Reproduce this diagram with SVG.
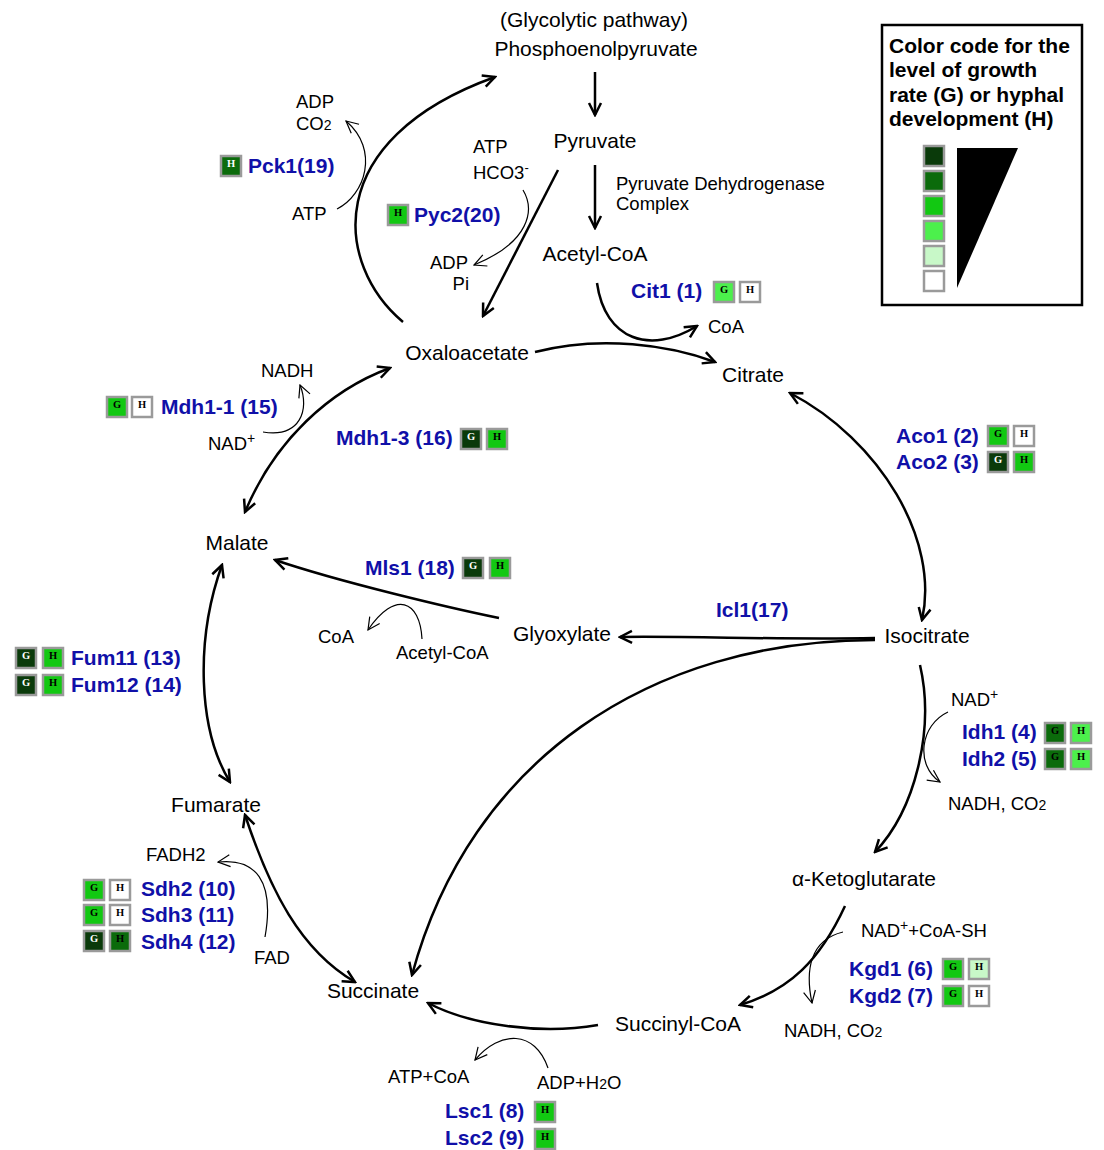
<svg xmlns="http://www.w3.org/2000/svg" width="1104" height="1150" viewBox="0 0 1104 1150">
<defs>
<style>
.m{font-family:"Liberation Sans",Arial,sans-serif;font-size:21px;fill:#000;text-anchor:middle}
.s{font-family:"Liberation Sans",Arial,sans-serif;font-size:18.5px;fill:#000}
.e{font-family:"Liberation Sans",Arial,sans-serif;font-size:21px;font-weight:bold;fill:#1010a8}
.lg{font-family:"Liberation Sans",Arial,sans-serif;font-size:21px;font-weight:bold;fill:#000}
.bx{stroke:#9a9a9a;stroke-width:2.5}
.l1{fill:#0a3a0a}.l2{fill:#0b6b0b}.l3{fill:#12c812}.l4{fill:#4cf04c}.l5{fill:#c8f8c8}.l6{fill:#ffffff}
.bl{font-family:"Liberation Serif","Times New Roman",serif;font-size:10.5px;font-weight:bold;text-anchor:middle;fill:#000}
.bw{fill:#fff}
.k{fill:none;stroke:#000;stroke-width:2.5}
.t{fill:none;stroke:#000;stroke-width:1.2}
</style>
<marker id="ah" viewBox="0 0 16 16" refX="14" refY="8" markerWidth="16" markerHeight="16" orient="auto-start-reverse" markerUnits="userSpaceOnUse"><path d="M2,2 L14,8 L2,14" fill="none" stroke="#000" stroke-width="2.5"/></marker>
<marker id="at" viewBox="0 0 14 14" refX="13" refY="7" markerWidth="14" markerHeight="14" orient="auto-start-reverse" markerUnits="userSpaceOnUse"><path d="M1,1 L13,7 L1,13" fill="none" stroke="#000" stroke-width="1.2"/></marker>
</defs>
<rect width="1104" height="1150" fill="#fff"/>

<g id="connectors">
<path class="k" d="M595,72 L595,115" marker-end="url(#ah)"/>
<path class="k" d="M595,165 L595,228" marker-end="url(#ah)"/>
<path class="k" d="M403,322 C335,265 320,140 495,77" marker-end="url(#ah)"/>
<path class="t" d="M337,209 C365,195 380,150 346,121" marker-end="url(#at)"/>
<path class="k" d="M558,170 L483,316" marker-end="url(#ah)"/>
<path class="t" d="M523,190 C535,210 530,242 474,265" marker-end="url(#at)"/>
<path class="k" d="M535,352 C600,335 670,345 715,362" marker-end="url(#ah)"/>
<path class="k" d="M597,283 C605,340 650,355 697,326" marker-end="url(#ah)"/>
<path class="k" d="M790,393 C880,440 940,540 922,620" marker-start="url(#ah)" marker-end="url(#ah)"/>
<path class="k" d="M920,665 C935,730 915,810 875,852" marker-end="url(#ah)"/>
<path class="t" d="M948,712 C920,725 915,765 940,782" marker-end="url(#at)"/>
<path class="k" d="M845,906 C820,960 790,990 740,1005" marker-end="url(#ah)"/>
<path class="t" d="M843,932 C810,940 805,970 812,1003" marker-end="url(#at)"/>
<path class="k" d="M598,1025 C540,1035 470,1025 428,1003" marker-end="url(#ah)"/>
<path class="t" d="M548,1068 C535,1030 500,1030 475,1060" marker-end="url(#at)"/>
<path class="k" d="M245,815 C270,890 300,950 355,982" marker-start="url(#ah)" marker-end="url(#ah)"/>
<path class="t" d="M265,937 C275,880 255,858 218,862" marker-end="url(#at)"/>
<path class="k" d="M222,565 C195,640 198,730 230,782" marker-start="url(#ah)" marker-end="url(#ah)"/>
<path class="k" d="M245,512 C275,440 330,390 390,368" marker-start="url(#ah)" marker-end="url(#ah)"/>
<path class="t" d="M263,432 C300,438 310,410 300,385" marker-end="url(#at)"/>
<path class="k" d="M499,618 C450,608 340,582 275,560" marker-end="url(#ah)"/>
<path class="t" d="M422,639 C420,600 395,590 368,630" marker-end="url(#at)"/>
<path class="k" d="M875,638 C780,640 700,636 620,637" marker-end="url(#ah)"/>
<path class="k" d="M875,640 C650,640 470,760 412,975" marker-end="url(#ah)"/>
</g>

<g id="glycolytic"><text class="m" x="594" y="27">(Glycolytic pathway)</text></g>
<g id="pep"><text class="m" x="596" y="56">Phosphoenolpyruvate</text></g>
<g id="pyruvate"><text class="m" x="595" y="148">Pyruvate</text></g>
<g id="pdh"><text class="s" x="616" y="190">Pyruvate Dehydrogenase</text><text class="s" x="616" y="210">Complex</text></g>
<g id="acetylcoa"><text class="m" x="595" y="261">Acetyl-CoA</text></g>
<g id="oxaloacetate"><text class="m" x="467" y="360">Oxaloacetate</text></g>
<g id="citrate"><text class="m" x="753" y="382">Citrate</text></g>
<g id="isocitrate"><text class="m" x="927" y="643">Isocitrate</text></g>
<g id="akg"><text class="m" x="864" y="886">α-Ketoglutarate</text></g>
<g id="succinylcoa"><text class="m" x="678" y="1031">Succinyl-CoA</text></g>
<g id="succinate"><text class="m" x="373" y="998">Succinate</text></g>
<g id="fumarate"><text class="m" x="216" y="812">Fumarate</text></g>
<g id="malate"><text class="m" x="237" y="550">Malate</text></g>
<g id="glyoxylate"><text class="m" x="562" y="641">Glyoxylate</text></g>

<g id="pck1">
<text class="s" x="296" y="108">ADP</text>
<text class="s" x="296" y="130">CO<tspan font-size="14">2</tspan></text>
<text class="s" x="292" y="220">ATP</text>
<rect class="bx l2" x="221" y="156" width="20" height="20"/><text class="bl bw" x="231" y="167">H</text>
<text class="e" x="248" y="173">Pck1(19)</text>
</g>
<g id="pyc2">
<text class="s" x="473" y="153">ATP</text>
<text class="s" x="473" y="179">HCO3<tspan dy="-7" font-size="13">-</tspan></text>
<text class="s" x="468" y="269" text-anchor="end">ADP</text>
<text class="s" x="469" y="290" text-anchor="end">Pi</text>
<rect class="bx l3" x="388" y="205" width="20" height="20"/><text class="bl" x="398" y="216">H</text>
<text class="e" x="414" y="222">Pyc2(20)</text>
</g>
<g id="cit1">
<text class="e" x="631" y="298">Cit1 (1)</text>
<rect class="bx l4" x="714" y="282" width="20" height="20"/><text class="bl" x="724" y="293">G</text>
<rect class="bx l6" x="740" y="282" width="20" height="20"/><text class="bl" x="750" y="293">H</text>
<text class="s" x="708" y="333">CoA</text>
</g>
<g id="aco">
<text class="e" x="896" y="443">Aco1 (2)</text>
<rect class="bx l3" x="988" y="426" width="20" height="20"/><text class="bl" x="998" y="437">G</text>
<rect class="bx l6" x="1014" y="426" width="20" height="20"/><text class="bl" x="1024" y="437">H</text>
<text class="e" x="896" y="469">Aco2 (3)</text>
<rect class="bx l1" x="988" y="452" width="20" height="20"/><text class="bl bw" x="998" y="463">G</text>
<rect class="bx l3" x="1014" y="452" width="20" height="20"/><text class="bl" x="1024" y="463">H</text>
</g>
<g id="idh">
<text class="s" x="951" y="706">NAD<tspan dy="-7" font-size="14">+</tspan></text>
<text class="e" x="962" y="739">Idh1 (4)</text>
<rect class="bx l2" x="1045" y="723" width="20" height="20"/><text class="bl" x="1055" y="734">G</text>
<rect class="bx l4" x="1071" y="723" width="20" height="20"/><text class="bl" x="1081" y="734">H</text>
<text class="e" x="962" y="766">Idh2 (5)</text>
<rect class="bx l2" x="1045" y="749" width="20" height="20"/><text class="bl" x="1055" y="760">G</text>
<rect class="bx l4" x="1071" y="749" width="20" height="20"/><text class="bl" x="1081" y="760">H</text>
<text class="s" x="948" y="810">NADH, CO<tspan font-size="14">2</tspan></text>
</g>
<g id="kgd">
<text class="s" x="861" y="937">NAD<tspan dy="-7" font-size="14">+</tspan><tspan dy="7">+CoA-SH</tspan></text>
<text class="e" x="849" y="976">Kgd1 (6)</text>
<rect class="bx l3" x="943" y="959" width="20" height="20"/><text class="bl" x="953" y="970">G</text>
<rect class="bx l5" x="969" y="959" width="20" height="20"/><text class="bl" x="979" y="970">H</text>
<text class="e" x="849" y="1003">Kgd2 (7)</text>
<rect class="bx l3" x="943" y="986" width="20" height="20"/><text class="bl" x="953" y="997">G</text>
<rect class="bx l6" x="969" y="986" width="20" height="20"/><text class="bl" x="979" y="997">H</text>
<text class="s" x="784" y="1037">NADH, CO<tspan font-size="14">2</tspan></text>
</g>
<g id="lsc">
<text class="s" x="388" y="1083">ATP+CoA</text>
<text class="s" x="537" y="1089">ADP+H<tspan font-size="14">2</tspan>O</text>
<text class="e" x="445" y="1118">Lsc1 (8)</text>
<rect class="bx l3" x="535" y="1102" width="20" height="20"/><text class="bl" x="545" y="1113">H</text>
<text class="e" x="445" y="1145">Lsc2 (9)</text>
<rect class="bx l3" x="535" y="1129" width="20" height="20"/><text class="bl" x="545" y="1140">H</text>
</g>
<g id="sdh">
<text class="s" x="146" y="861">FADH2</text>
<text class="s" x="254" y="964">FAD</text>
<rect class="bx l3" x="84" y="880" width="20" height="20"/><text class="bl" x="94" y="891">G</text>
<rect class="bx l6" x="110" y="880" width="20" height="20"/><text class="bl" x="120" y="891">H</text>
<text class="e" x="141" y="896">Sdh2 (10)</text>
<rect class="bx l3" x="84" y="905" width="20" height="20"/><text class="bl" x="94" y="916">G</text>
<rect class="bx l6" x="110" y="905" width="20" height="20"/><text class="bl" x="120" y="916">H</text>
<text class="e" x="141" y="922">Sdh3 (11)</text>
<rect class="bx l1" x="84" y="931" width="20" height="20"/><text class="bl bw" x="94" y="942">G</text>
<rect class="bx l2" x="110" y="931" width="20" height="20"/><text class="bl" x="120" y="942">H</text>
<text class="e" x="141" y="949">Sdh4 (12)</text>
</g>
<g id="fum">
<rect class="bx l1" x="16" y="648" width="20" height="20"/><text class="bl bw" x="26" y="659">G</text>
<rect class="bx l3" x="43" y="648" width="20" height="20"/><text class="bl" x="53" y="659">H</text>
<text class="e" x="71" y="665">Fum11 (13)</text>
<rect class="bx l1" x="16" y="675" width="20" height="20"/><text class="bl bw" x="26" y="686">G</text>
<rect class="bx l3" x="43" y="675" width="20" height="20"/><text class="bl" x="53" y="686">H</text>
<text class="e" x="71" y="692">Fum12 (14)</text>
</g>
<g id="mdh">
<text class="s" x="261" y="377">NADH</text>
<text class="s" x="208" y="450">NAD<tspan dy="-7" font-size="14">+</tspan></text>
<rect class="bx l3" x="107" y="397" width="20" height="20"/><text class="bl" x="117" y="408">G</text>
<rect class="bx l6" x="132" y="397" width="20" height="20"/><text class="bl" x="142" y="408">H</text>
<text class="e" x="161" y="414">Mdh1-1 (15)</text>
<text class="e" x="336" y="445">Mdh1-3 (16)</text>
<rect class="bx l1" x="461" y="429" width="20" height="20"/><text class="bl bw" x="471" y="440">G</text>
<rect class="bx l3" x="487" y="429" width="20" height="20"/><text class="bl" x="497" y="440">H</text>
</g>
<g id="mls1">
<text class="e" x="365" y="575">Mls1 (18)</text>
<rect class="bx l1" x="463" y="558" width="20" height="20"/><text class="bl bw" x="473" y="569">G</text>
<rect class="bx l3" x="490" y="558" width="20" height="20"/><text class="bl" x="500" y="569">H</text>
<text class="s" x="318" y="643">CoA</text>
<text class="s" x="396" y="659">Acetyl-CoA</text>
</g>
<g id="icl1"><text class="e" x="716" y="617">Icl1(17)</text></g>

<g id="legend">
<rect x="882" y="25" width="200" height="280" fill="#fff" stroke="#000" stroke-width="2.5"/>
<text class="lg" x="889" y="53">Color code for the</text>
<text class="lg" x="889" y="77">level of growth</text>
<text class="lg" x="889" y="102">rate (G) or hyphal</text>
<text class="lg" x="889" y="126">development (H)</text>
<rect class="bx l1" x="924" y="146" width="20" height="20"/>
<rect class="bx l2" x="924" y="171" width="20" height="20"/>
<rect class="bx l3" x="924" y="196" width="20" height="20"/>
<rect class="bx l4" x="924" y="221" width="20" height="20"/>
<rect class="bx l5" x="924" y="246" width="20" height="20"/>
<rect class="bx l6" x="924" y="271" width="20" height="20"/>
<polygon points="957,148 1018,148 957,288" fill="#000"/>
</g>
</svg>
